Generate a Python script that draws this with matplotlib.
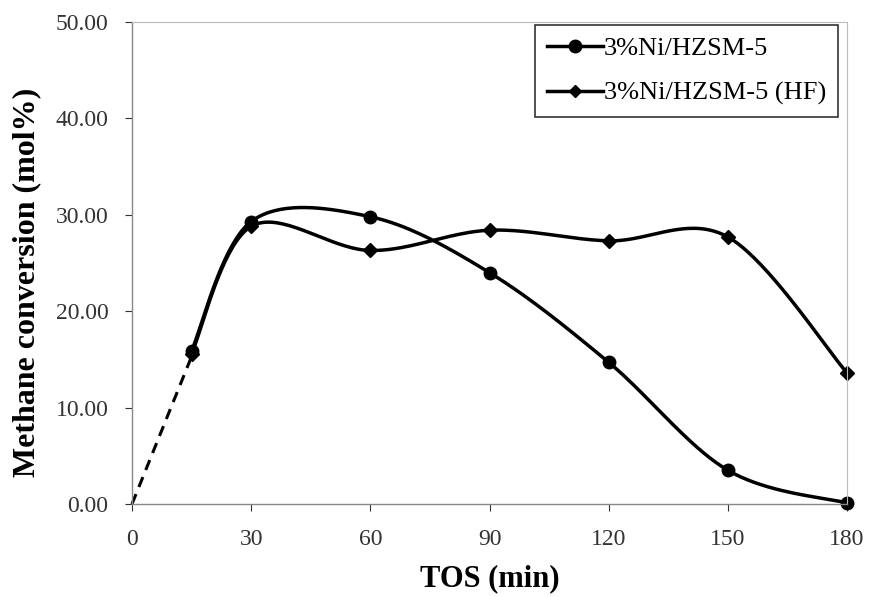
import numpy as np
import matplotlib
matplotlib.use("Agg")
import matplotlib.pyplot as plt

plt.rcParams['font.family'] = ['Liberation Serif', 'DejaVu Serif']

tos = [15, 30, 60, 90, 120, 150, 180]
ni = [15.9, 29.3, 29.8, 24.0, 14.7, 3.5, 0.1]
ni_hf = [15.6, 28.8, 26.3, 28.4, 27.3, 27.7, 13.6]
dash_x = [0, 15]
dash_y = [0, 15.3]
xticks = [0, 30, 60, 90, 120, 150, 180]
yticks = [0, 10, 20, 30, 40, 50]
labels = ['3%Ni/HZSM-5', '3%Ni/HZSM-5 (HF)']


def smooth(xs, ys, n=40):
    xs = np.asarray(xs, float); ys = np.asarray(ys, float)
    P = np.column_stack([xs, ys])
    pts = [P[0]]
    for i in range(len(P) - 1):
        p0 = P[i - 1] if i > 0 else P[i]
        p1 = P[i]; p2 = P[i + 1]
        p3 = P[i + 2] if i + 2 < len(P) else P[i + 1]
        c1 = p1 + (p2 - p0) / 6.0
        c2 = p2 - (p3 - p1) / 6.0
        t = np.linspace(0, 1, n)[1:, None]
        seg = ((1 - t) ** 3) * p1 + 3 * ((1 - t) ** 2) * t * c1 + 3 * (1 - t) * t ** 2 * c2 + t ** 3 * p2
        pts.extend(seg)
    pts = np.array(pts)
    return pts[:, 0], pts[:, 1]


fig = plt.figure(figsize=(8.71, 5.97), dpi=100)
ax = fig.add_axes([132 / 871, 1 - 504 / 597, (847 - 132) / 871, (504 - 22) / 597])

ax.plot(dash_x, dash_y, color='black', lw=2.2, ls=(0, (3.5, 2.5)), clip_on=False)

sx, sy = smooth(tos, ni)
ax.plot(sx, sy, color='black', lw=2.5, clip_on=False)
ax.plot(tos, ni, ls='none', marker='o', ms=9, color='black', clip_on=False)
sx2, sy2 = smooth(tos, ni_hf)
ax.plot(sx2, sy2, color='black', lw=2.5, clip_on=False)
ax.plot(tos, ni_hf, ls='none', marker='D', ms=7.5, color='black', clip_on=False)

# legend proxies
h1, = ax.plot([], [], color='black', lw=2.5, marker='o', ms=9)
h2, = ax.plot([], [], color='black', lw=2.5, marker='D', ms=6.5)
leg = ax.legend([h1, h2], labels, loc='upper right',
                bbox_to_anchor=((838 - 132) / 715, (504 - 25) / 482),
                fontsize=19, frameon=True, fancybox=False,
                handlelength=2.1, handletextpad=0.05, borderpad=0.45, labelspacing=0.8,
                borderaxespad=0.0)
leg.get_frame().set_edgecolor('black')
leg.get_frame().set_linewidth(1.2)

ax.set_xlim(0, 180)
ax.set_ylim(0, 50)
ax.set_xticks(xticks)
ax.set_yticks(yticks)
ax.set_yticklabels([f"{v:.2f}" for v in yticks])
ax.tick_params(axis='both', labelsize=17, colors='#333333', length=5, width=0.8, direction='out')
ax.tick_params(axis='x', pad=13)
ax.tick_params(axis='y', pad=12)
for s in ['left', 'bottom']:
    ax.spines[s].set_color('#888888')
    ax.spines[s].set_linewidth(1.0)
for s in ['right', 'top']:
    ax.spines[s].set_color('#bbbbbb')
    ax.spines[s].set_linewidth(0.8)
    ax.spines[s].set_linestyle((0, (2, 1)))

ax.set_xlabel('TOS (min)', fontsize=22, fontweight='bold')
ax.set_ylabel('Methane conversion (mol%)', fontsize=23, fontweight='bold')
ax.xaxis.set_label_coords(0.5, -(579 - 504) / 482, transform=ax.transAxes)
ax.yaxis.set_label_coords(-(132 - 27) / 715, (504 - 282) / 482, transform=ax.transAxes)
ax.xaxis.label.set_va('center')
ax.yaxis.label.set_va('center')

fig.savefig('out.png', dpi=100)
